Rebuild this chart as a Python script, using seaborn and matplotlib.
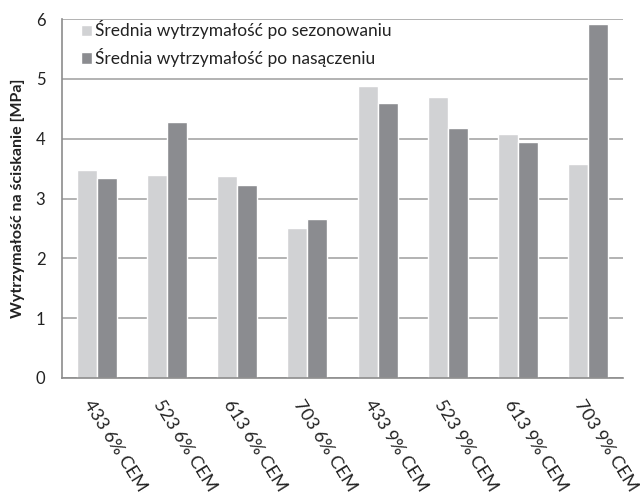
import pandas as pd
import seaborn as sb
import matplotlib.pyplot as plt
from matplotlib.transforms import ScaledTranslation

categories = ['433 6% CEM', '523 6% CEM', '613 6% CEM', '703 6% CEM',
              '433 9% CEM', '523 9% CEM', '613 9% CEM', '703 9% CEM']
sezonowanie = [3.48, 3.40, 3.38, 2.50, 4.88, 4.70, 4.08, 3.58]
nasaczenie = [3.34, 4.28, 3.22, 2.66, 4.60, 4.18, 3.95, 5.91]
series = ['Średnia wytrzymałość po sezonowaniu', 'Średnia wytrzymałość po nasączeniu']
colors = ['#d1d2d4', '#8b8c90']

df = pd.DataFrame({
    'kategoria': categories * 2,
    'wartosc': sezonowanie + nasaczenie,
    'seria': [series[0]] * len(categories) + [series[1]] * len(categories),
})

sb.set_style('white')
plt.rcParams['font.family'] = ['Lato', 'DejaVu Sans']

fig = plt.figure(figsize=(6.4, 4.93), dpi=100)
ax = fig.add_axes([0.0969, 0.2333, 0.8766, 0.728])

sb.barplot(data=df, x='kategoria', y='wartosc', hue='seria', palette=colors,
           width=0.57, saturation=1, ax=ax, legend=True)

ax.set_ylim(0, 6)
ax.set_xlim(-0.5, len(categories) - 0.5)
ax.set_yticks(range(0, 7))
ax.yaxis.grid(True, color='#a6a6a6', linewidth=1.2)
ax.set_axisbelow(True)
for s in ['top', 'right']:
    ax.spines[s].set_visible(False)
for s in ['left', 'bottom']:
    ax.spines[s].set_color('#8c8c8c')
    ax.spines[s].set_linewidth(1.2)
ax.tick_params(axis='y', length=6, width=1.2, color='#8c8c8c', labelsize=12, labelcolor='#222222', pad=6)
ax.tick_params(axis='x', length=0, labelsize=13, labelcolor='#222222', pad=14)
offset = ScaledTranslation(-3 / 100, 0, fig.dpi_scale_trans)
for lab in ax.get_xticklabels():
    lab.set_rotation(-58)
    lab.set_ha('left')
    lab.set_va('top')
    lab.set_rotation_mode('anchor')
    lab.set_transform(lab.get_transform() + offset)

ax.set_xlabel('')
ax.set_ylabel('Wytrzymałość na ściskanie [MPa]', fontsize=11.5, fontweight='bold', color='#222222', labelpad=8)

handles, labels = ax.get_legend_handles_labels()
ax.legend(handles, labels, loc='upper left', bbox_to_anchor=(0.012, 1.03), frameon=False,
          fontsize=12.5, handlelength=0.65, handleheight=0.65, handletextpad=0.15, labelspacing=0.5,
          labelcolor='#222222', borderaxespad=0.3)

plt.savefig('out.png', dpi=100)
